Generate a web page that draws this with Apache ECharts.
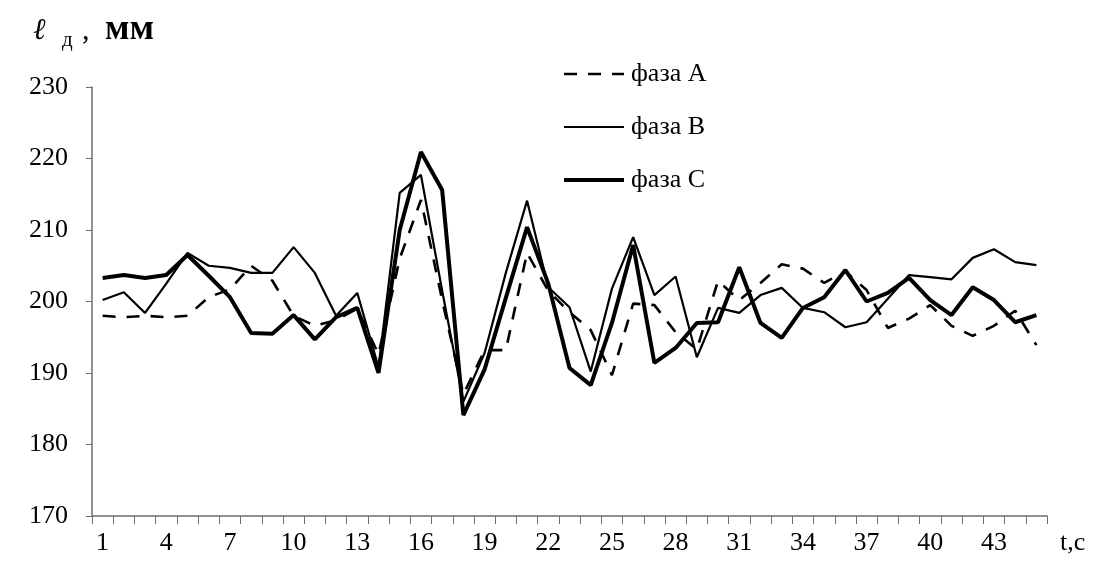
<!DOCTYPE html>
<html><head><meta charset="utf-8">
<script src="https://cdn.jsdelivr.net/npm/echarts@6/dist/echarts.min.js"></script>
<style>html,body{margin:0;padding:0;background:#fff}#c{width:1109px;height:574px}</style>
</head><body><div id="c"></div>
<script>
const categories = ['1','2','3','4','5','6','7','8','9','10','11','12','13','14','15','16','17','18','19','20','21','22','23','24','25','26','27','28','29','30','31','32','33','34','35','36','37','38','39','40','41','42','43','44','45'];
const seriesNames = ['фаза А', 'фаза В', 'фаза С'];
const phaseA = [198, 197.8, 198, 197.8, 198, 200.6, 201.7, 205, 202.9, 198, 196.6, 197.4, 199, 192.6, 206, 214.2, 200.2, 187, 193.2, 193.2, 206.8, 201.5, 198.5, 196, 189.7, 199.7, 199.5, 195.7, 193.3, 202.9, 200.2, 202.6, 205.2, 204.6, 202.6, 204.2, 201.6, 196.3, 197.6, 199.5, 196.6, 195.2, 196.6, 198.7, 193.9];
const phaseB = [200.2, 201.3, 198.4, 202.5, 206.8, 205, 204.7, 204, 204, 207.6, 204, 198, 201.2, 190.8, 215.2, 217.7, 201.5, 186, 192.8, 204, 214.1, 202, 199.2, 190.2, 201.8, 209, 200.9, 203.5, 192.2, 199.1, 198.4, 200.9, 201.9, 199.1, 198.5, 196.4, 197.1, 200.4, 203.7, 203.4, 203.1, 206.1, 207.3, 205.5, 205.1];
const phaseC = [203.3, 203.7, 203.3, 203.7, 206.5, 203.6, 200.6, 195.6, 195.5, 198.1, 194.7, 197.8, 199.1, 190, 210, 220.9, 215.6, 184.1, 190.5, 200.5, 210.4, 202.5, 190.7, 188.3, 197, 207.9, 191.4, 193.5, 197, 197.1, 204.8, 197, 194.9, 199.1, 200.6, 204.4, 200, 201.2, 203.3, 200.2, 198.1, 202, 200.2, 197.1, 198.1];
const yMin = 170, yMax = 230, yStep = 10;
const xTitle = 't,c';
const yTitleParts = ['ℓ', 'д', ',', 'мм'];

const FONT = '"Liberation Serif", "Times New Roman", serif';
const styleA = {color: '#000', width: 2.6, type: [13, 11]};
const styleB = {color: '#000', width: 2.2, type: 'solid'};
const styleC = {color: '#000', width: 4, type: 'solid'};
const chart = echarts.init(document.getElementById('c'), null, {renderer: 'canvas'});
chart.setOption({
  animation: false,
  backgroundColor: '#fff',
  grid: {left: 92, right: 62, top: 87, bottom: 58, containLabel: false},
  legend: {
    orient: 'vertical', left: 557, top: 56,
    itemWidth: 60, itemHeight: 14, itemGap: 27,
    data: [
      {name: seriesNames[0], lineStyle: styleA},
      {name: seriesNames[1], lineStyle: styleB},
      {name: seriesNames[2], lineStyle: styleC}
    ],
    itemStyle: {opacity: 0, borderWidth: 0},
    textStyle: {fontFamily: FONT, fontSize: 26, color: '#000', padding: [0, 0, 0, 2]}
  },
  xAxis: {
    type: 'category', data: categories, boundaryGap: true,
    axisLine: {lineStyle: {color: '#6e6e6e', width: 1.5}},
    axisTick: {show: true, interval: 0, length: 8, lineStyle: {color: '#6e6e6e'}},
    axisLabel: {interval: 2, margin: 14, fontFamily: FONT, fontSize: 26, color: '#000'},
    splitLine: {show: false}
  },
  yAxis: {
    type: 'value', min: yMin, max: yMax, interval: yStep,
    axisLine: {show: true, lineStyle: {color: '#6e6e6e', width: 1.5}},
    axisTick: {show: true, length: 6, lineStyle: {color: '#6e6e6e'}},
    axisLabel: {margin: 24, fontFamily: FONT, fontSize: 26, color: '#000'},
    splitLine: {show: false}
  },
  series: [
    {name: seriesNames[0], type: 'line', data: phaseA, symbol: 'none',
     lineStyle: styleA, itemStyle: {color: '#000'}},
    {name: seriesNames[1], type: 'line', data: phaseB, symbol: 'none',
     lineStyle: styleB, itemStyle: {color: '#000'}},
    {name: seriesNames[2], type: 'line', data: phaseC, symbol: 'none',
     lineStyle: styleC, itemStyle: {color: '#000'}}
  ],
  graphic: [
    {type: 'text', left: 1060, top: 530,
     style: {text: xTitle, font: '26px ' + FONT, fill: '#000'}},
    {type: 'text', left: 33, top: 16,
     style: {text: yTitleParts[0], font: 'italic 30px ' + FONT, fill: '#000'}},
    {type: 'text', left: 62, top: 30,
     style: {text: yTitleParts[1], font: '21px ' + FONT, fill: '#000'}},
    {type: 'text', left: 82, top: 16,
     style: {text: yTitleParts[2], font: '30px ' + FONT, fill: '#000'}},
    {type: 'text', left: 105, top: 12,
     style: {text: yTitleParts[3], font: 'bold 36px ' + FONT, fill: '#000'}}
  ]
});
</script>
</body></html>
